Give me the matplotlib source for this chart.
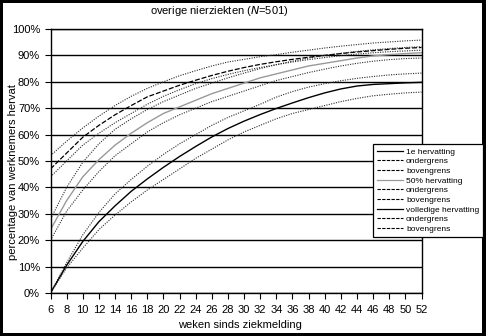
import matplotlib
matplotlib.use("Agg")
import matplotlib.pyplot as plt
from matplotlib.lines import Line2D
from matplotlib.patches import Rectangle

plt.rcParams['font.family'] = ['Liberation Sans', 'DejaVu Sans']

weeks = [6, 8, 10, 12, 14, 16, 18, 20, 22, 24, 26, 28, 30, 32, 34, 36, 38, 40, 42, 44, 46, 48, 50, 52]

eerste = [47, 53, 59, 63.5, 67.5, 71, 74.3, 76.5, 78.7, 80.6, 82.4, 84, 85.4, 86.6, 87.6, 88.5,
          89.3, 90, 90.7, 91.3, 91.8, 92.3, 92.7, 93]
eerste_onder = [44, 50, 56, 60.5, 64.5, 68, 71.5, 74.5, 77, 79.3, 81.2, 82.8, 84.2, 85.4, 86.5, 87.5,
                88.4, 89.2, 89.9, 90.5, 91, 91.4, 91.7, 92]
eerste_boven = [52, 57.5, 62.5, 67, 71, 74.5, 77.5, 80, 82.3, 84.2, 86, 87.5, 88.5, 89.5, 90.3, 91.2,
                92, 92.8, 93.5, 94.1, 94.7, 95.1, 95.5, 95.8]

half = [24, 35, 44, 50.5, 56, 60.5, 64.5, 68, 70.5, 73, 75.5, 77.5, 79.5, 81.5, 83, 84.5,
        86, 87, 88, 89, 89.8, 90.3, 90.7, 91]
half_onder = [20, 31, 39, 46, 52, 56.5, 61, 64.5, 67.5, 70, 72.5, 74.5, 76.5, 78.5, 80.5, 82,
              83.5, 84.8, 86, 87, 87.8, 88.4, 88.8, 89]
half_boven = [28, 40, 49.5, 56.5, 62, 66, 69.5, 72.5, 75, 77.5, 79.5, 81.5, 83.3, 85, 86.5, 87.8,
              89, 90, 90.8, 91.5, 92.1, 92.6, 93, 93.3]

vol = [0, 10.5, 19.5, 27, 33, 38.5, 43.2, 47.6, 51.7, 55.5, 59.1, 62.3, 65.1, 67.6, 69.9, 72, 74,
       75.8, 77.3, 78.4, 79, 79.3, 79.6, 79.8]
vol_onder = [0, 9.5, 17, 24, 29.5, 34.5, 39, 43, 47, 51, 54.5, 58, 61, 63.5, 66, 68, 69.5,
             71, 72.5, 73.7, 74.7, 75.3, 75.8, 76.1]
vol_boven = [0, 11.5, 22, 30.5, 37.5, 43, 48, 52.5, 56.5, 60, 63.5, 66.5, 69, 71.5, 74.2, 76.3,
             78, 79.3, 80.4, 81.3, 82, 82.6, 83, 83.3]

labels = ["1e hervatting", "ondergrens", "bovengrens", "50% hervatting", "ondergrens", "bovengrens",
          "volledige hervatting", "ondergrens", "bovengrens"]

yticks = list(range(0, 101, 10))
xticks = list(range(6, 53, 2))

W, H = 486, 336
fig = plt.figure(figsize=(W / 100, H / 100), dpi=100, facecolor='black')
fig.patches.append(Rectangle((3 / W, 3 / H), (482 - 3) / W, (333 - 3) / H,
                             transform=fig.transFigure, facecolor='white', edgecolor='none', zorder=-5))

ax = fig.add_axes([50.5 / W, 43 / H, (421.5 - 50.5) / W, (293 - 29) / H])
ax.set_facecolor('white')

dot = (0, (1, 1.2))
dotc = '#2a2a2a'
ax.plot(weeks, eerste_boven, color=dotc, lw=0.8, ls=dot)
ax.plot(weeks, eerste, color='black', lw=0.9, ls=(0, (4, 1.5)))
ax.plot(weeks, eerste_onder, color=dotc, lw=0.8, ls=dot)
ax.plot(weeks, half_boven, color=dotc, lw=0.8, ls=dot)
ax.plot(weeks, half, color='#999999', lw=1.0)
ax.plot(weeks, half_onder, color=dotc, lw=0.8, ls=dot)
ax.plot(weeks, vol_boven, color=dotc, lw=0.8, ls=dot)
ax.plot(weeks, vol, color='black', lw=1.0)
ax.plot(weeks, vol_onder, color=dotc, lw=0.8, ls=dot)

ax.set_xlim(6, 52)
ax.set_ylim(0, 100)
ax.set_xticks(xticks)
ax.set_yticks(yticks)
ax.set_yticklabels([f"{v}%" for v in yticks])
ax.yaxis.grid(True, color='black', lw=1.0)
ax.set_axisbelow(True)
for s in ax.spines.values():
    s.set_color('black')
    s.set_linewidth(1.0)
ax.tick_params(axis='both', direction='out', length=4.5, width=0.8, colors='black', labelsize=8, pad=3)
ax.tick_params(axis='x', pad=4)

fig.text(219.5 / W, 1 - 11 / H, r"overige nierziekten ($\it{N}$=501)", ha='center', va='center', fontsize=8)
fig.text(240 / W, 1 - 325 / H, "weken sinds ziekmelding", ha='center', va='center', fontsize=8)
fig.text(13 / W, 1 - 172 / H, "percentage van werknemers hervat", ha='center', va='center',
         rotation=90, fontsize=8)

dash = (0, (3, 1.2))
handles = [
    Line2D([], [], color='black', lw=0.9),
    Line2D([], [], color='black', lw=0.8, ls=dash),
    Line2D([], [], color='black', lw=0.8, ls=dash),
    Line2D([], [], color='#999999', lw=0.9),
    Line2D([], [], color='black', lw=0.8, ls=dash),
    Line2D([], [], color='black', lw=0.8, ls=dash),
    Line2D([], [], color='black', lw=0.9),
    Line2D([], [], color='black', lw=0.8, ls=dash),
    Line2D([], [], color='black', lw=0.8, ls=dash),
]
leg = fig.legend(handles, labels, loc='upper left', bbox_to_anchor=(373 / W, 1 - 144 / H),
                 bbox_transform=fig.transFigure, fontsize=6, frameon=True, fancybox=False,
                 framealpha=1, edgecolor='black', borderaxespad=0, labelspacing=0.22,
                 handlelength=3.2, handletextpad=0.3, borderpad=0.45)
leg.get_frame().set_linewidth(0.9)

fig.savefig("out.png", dpi=100, facecolor='black')
